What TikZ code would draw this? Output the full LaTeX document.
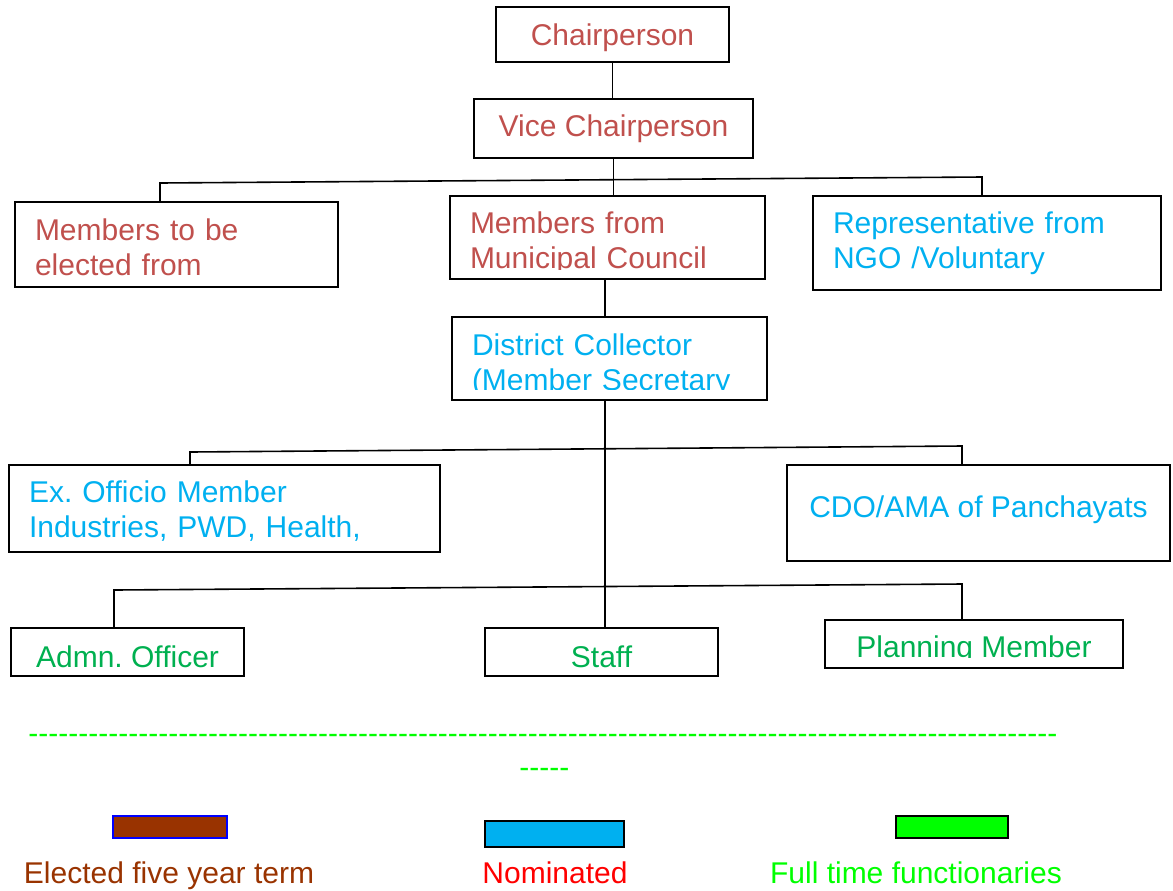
\documentclass[tikz,border=0pt]{standalone}
\usepackage{fontspec}
\setmainfont{Liberation Sans}
\frenchspacing
\usetikzlibrary{positioning}
\definecolor{colel}{HTML}{C0504D}
\definecolor{colno}{HTML}{00B0F0}
\definecolor{colft}{HTML}{00B050}
\definecolor{legbrown}{HTML}{993300}
\definecolor{leggreen}{HTML}{00FF00}

\begin{document}
\begin{tikzpicture}[x=0.5pt, y=-0.5pt,
    box/.style={draw, line width=1pt, inner sep=0pt, font=\fontsize{15}{17.5}\selectfont},
    onel/.style={box, text height=10.7pt, text depth=0pt},
    twol/.style={box, align=left, inner xsep=10pt, text height=11pt},
    conn/.style={line width=0.8pt},
    cut/.style={fill=white},
    keybox/.style={line width=1pt, inner sep=0pt},
    keytext/.style={inner sep=0pt, text height=10.7pt, text depth=0pt, font=\fontsize{15}{17.5}\selectfont}]
  \useasboundingbox (0,0) rectangle (1173,890);

  % top of the chart
  \node[onel, text=colel, minimum width=116.5pt, minimum height=27.5pt] (chair) at (612.5,34.5) {Chairperson};
  \node[onel, text=colel, text depth=2.5pt, minimum width=139.5pt, minimum height=29.5pt] (vice) at (613.5,128.5) {Vice Chairperson};
  \node[twol, text=colel, text depth=15.5pt, text width=141.5pt, minimum height=42.5pt] (elect) at (176.5,244.5) {Members to be\\elected from};
  \node[twol, text=colel, text depth=14.7pt, text width=137.5pt, minimum height=41.5pt] (munic) at (607.5,237.5) {Members from\\Municipal Council};
  \node[twol, text=colno, text depth=20.7pt, text width=154pt, minimum height=47pt] (ngo) at (987,243) {Representative from\\NGO /Voluntary};
  \node[twol, text=colno, text depth=13.7pt, text width=137.5pt, minimum height=41.5pt] (dc) at (609.5,358.5) {District Collector\\(Member Secretary};
  \node[twol, text=colno, text depth=16.7pt, text width=195.5pt, minimum height=43.5pt] (exoff) at (224.5,508.5) {Ex. Officio Member\\Industries, PWD, Health,};
  \node[onel, text=colno, text depth=6pt, minimum width=191.5pt, minimum height=48pt] (cdo) at (978.5,513) {CDO/AMA of Panchayats};
  \node[onel, text=colft, text height=15pt, minimum width=116.5pt, minimum height=24pt] (admn) at (127.5,652) {Admn. Officer};
  \node[onel, text=colft, text height=15pt, minimum width=116.5pt, minimum height=24pt] (staff) at (601.5,652) {Staff};
  \node[onel, text=colft, text height=13pt, minimum width=149pt, minimum height=24pt] (plan) at (974,644) {Planning Member};

  % text cut off at the foot of some boxes
  \fill[cut] ([xshift=1pt,yshift=1pt]munic.south west) rectangle ([xshift=-1pt]munic.east |- 0,269.5);
  \fill[cut] ([xshift=1pt,yshift=1pt]dc.south west) rectangle ([xshift=-1pt]dc.east |- 0,390);
  \fill[cut] ([xshift=1pt,yshift=1pt]plan.south west) rectangle ([xshift=-1pt]plan.east |- 0,657.5);

  % connectors
  \coordinate (b1w) at (160,183);
  \coordinate (b1e) at (982,177);
  \coordinate (sp) at (605,300);
  \coordinate (b2w) at (190,452);
  \coordinate (b2e) at (962,446);
  \coordinate (b3w) at (114,590);
  \coordinate (b3e) at (962,584);
  \draw[conn] (chair.south) -- (chair.south |- vice.north);
  \draw[conn] (vice.south) -- (vice.south |- munic.north);
  \draw[conn] (b1w |- elect.north) -- (b1w) -- (b1e) -- (b1e |- ngo.north);
  \draw[conn] (sp |- munic.south) -- (sp |- dc.north);
  \draw[conn] (sp |- dc.south) -- (sp |- staff.north);
  \draw[conn] (b2w |- exoff.north) -- (b2w) -- (b2e) -- (b2e |- cdo.north);
  \draw[conn] (b3w |- admn.north) -- (b3w) -- (b3e) -- (b3e |- plan.north);

  % dashes and legend
  \node[keytext, text=leggreen, text height=, anchor=west] (dashes) at (28,739) {\foreach \i in {1,...,103}{-\kern0pt}};
  \node[keytext, text=leggreen, text height=, anchor=west] (dashes2) at (519,773) {\foreach \i in {1,...,5}{-\kern0pt}};
  \node[keybox, draw=blue, fill=legbrown, minimum width=57pt, minimum height=11pt] (kel) at (170,827) {};
  \node[keybox, draw=black, fill=colno, minimum width=69.5pt, minimum height=13pt] (kno) at (554.5,834) {};
  \node[keybox, draw=black, fill=leggreen, minimum width=56pt, minimum height=11pt] (kft) at (952,827) {};
  \node[keytext, text=legbrown] (lel) at (169,873) {Elected five year term};
  \node[keytext, text=red] (lno) at (555,873) {Nominated};
  \node[keytext, text=leggreen] (lft) at (916,873) {Full time functionaries};
\end{tikzpicture}
\end{document}
